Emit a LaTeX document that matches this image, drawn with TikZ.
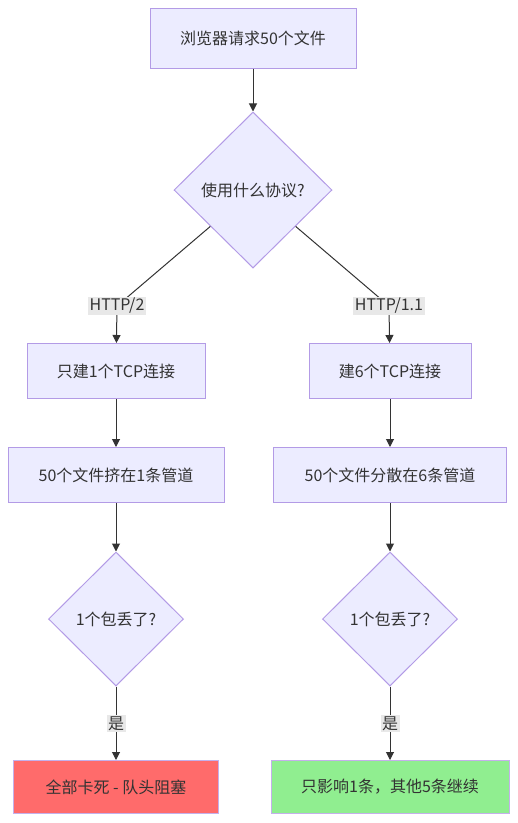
\documentclass[tikz,border=0pt]{standalone}
\usepackage{fontspec}
\setmainfont{Noto Sans CJK SC}
\usepackage{tikz}
\usetikzlibrary{positioning,shapes.geometric,arrows.meta}
\definecolor{nodefill} {HTML}{ECECFF}
\definecolor{nodeline} {HTML}{9370DB}
\definecolor{edgeline} {HTML}{333333}
\definecolor{lblfill}  {HTML}{E8E8E8}
\definecolor{badfill}  {HTML}{FF6B6B}
\definecolor{goodfill} {HTML}{90EE90}
\definecolor{txt}      {HTML}{333333}
\tikzset{
  every node/.style={font=\fontsize{16}{19}\selectfont, text=txt},
  % --- nodes
  box/.style  = {draw=nodeline!70, fill=nodefill, line width=1pt, align=center,
                 minimum height=55pt, inner sep=4pt},
  ask/.style  = {diamond, draw=nodeline!70, fill=nodefill, line width=1pt,
                 inner sep=0pt, align=center},
  bad/.style  = {box, fill=badfill, draw=nodeline!55},
  good/.style = {box, fill=goodfill, draw=nodeline!55},
  elbl/.style = {fill=lblfill, inner sep=1.5pt},
  % --- edges
  e/.style    = {-{Triangle[length=8pt,width=8pt]}, line width=1pt, draw=edgeline},
}
\begin{document}
\begin{tikzpicture}[x=1pt,y=-1pt]
  \useasboundingbox (0,0) rectangle (518,823);

  \node[box, minimum width=206pt, minimum height=60pt] (req) at (253,38) {浏览器请求50个文件};
  \node[ask, minimum width=158pt, minimum height=156pt] (proto) at (253,190) {使用什么协议?};

  \coordinate (k2) at (117,306);
  \coordinate (k1) at (389,306);

  \node[box, minimum width=178pt] (tcp1) at (116,371) {只建1个TCP连接};
  \node[box, minimum width=162pt] (tcp6) at (390,371) {建6个TCP连接};
  \node[box, minimum width=216pt] (pipe1) at (116,475) {50个文件挤在1条管道};
  \node[box, minimum width=233pt] (pipe6) at (390,475) {50个文件分散在6条管道};

  \node[ask, minimum width=135pt, minimum height=134pt] (lost1) at (116,619) {1个包丢了?};
  \node[ask, minimum width=135pt, minimum height=134pt] (lost6) at (390,619) {1个包丢了?};

  \node[bad, minimum width=205pt, minimum height=53pt] (stall) at (116,787) {全部卡死 - 队头阻塞};
  \node[good, minimum width=238pt, minimum height=53pt] (goon) at (390,787) {只影响1条，其他5条继续};

  \draw[e] (req) -- (proto);
  \draw[e] (proto) -- (k2) node[elbl] {HTTP/2} -- (tcp1);
  \draw[e] (proto) -- (k1) node[elbl] {HTTP/1.1} -- (tcp6);
  \draw[e] (tcp1) -- (pipe1); \draw[e] (tcp6) -- (pipe6);
  \draw[e] (pipe1) -- (lost1); \draw[e] (pipe6) -- (lost6);
  \draw[e] (lost1) -- node[elbl] {是} (stall);
  \draw[e] (lost6) -- node[elbl] {是} (goon);
\end{tikzpicture}
\end{document}
